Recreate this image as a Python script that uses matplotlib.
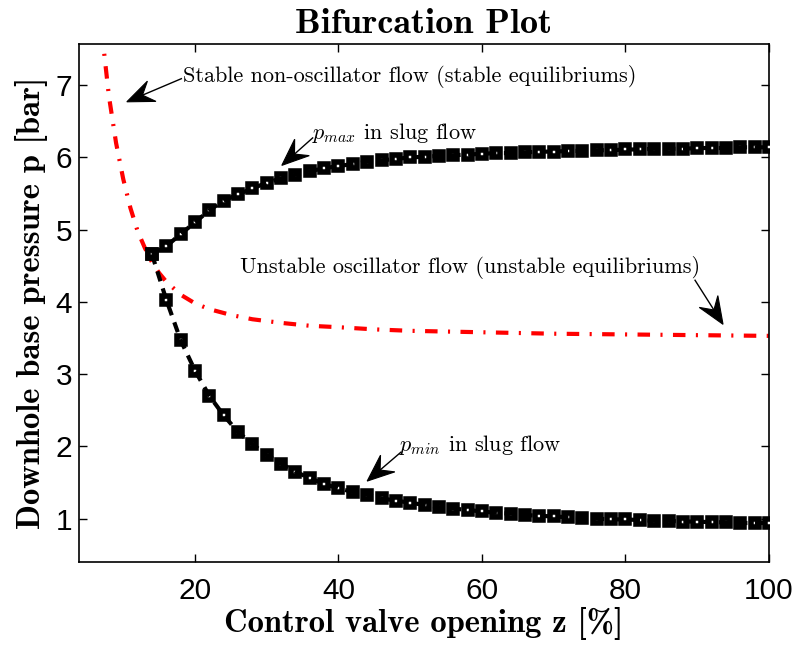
import numpy as np
import matplotlib
matplotlib.use("Agg")
import matplotlib.pyplot as plt
from matplotlib.patches import Polygon
from matplotlib.transforms import IdentityTransform

plt.rcParams['mathtext.fontset'] = 'cm'

# valve opening [%] for the slug-flow branches
z_slug = list(range(14, 101, 2))
p_max = [4.66, 4.77, 4.94, 5.10, 5.27, 5.40, 5.49, 5.57, 5.65, 5.71,
         5.76, 5.81, 5.85, 5.88, 5.91, 5.94, 5.96, 5.98, 6.00, 6.01,
         6.02, 6.03, 6.04, 6.05, 6.06, 6.06, 6.07, 6.08, 6.08, 6.09,
         6.09, 6.10, 6.10, 6.11, 6.11, 6.12, 6.12, 6.12, 6.13, 6.13,
         6.13, 6.14, 6.14, 6.14]
p_min = [4.66, 4.03, 3.47, 3.05, 2.70, 2.43, 2.20, 2.03, 1.88, 1.76,
         1.65, 1.56, 1.48, 1.42, 1.37, 1.33, 1.28, 1.25, 1.22, 1.19,
         1.16, 1.14, 1.12, 1.10, 1.08, 1.07, 1.05, 1.04, 1.03, 1.02,
         1.01, 1.00, 0.99, 0.99, 0.98, 0.97, 0.97, 0.96, 0.96, 0.95,
         0.95, 0.94, 0.94, 0.94]

# equilibrium curve
z_eq = [7, 8, 9, 10, 11, 12, 13, 14, 15, 16, 18, 20, 22, 25, 28, 32,
        36, 40, 45, 50, 60, 70, 80, 90, 100]
p_eq = [7.75, 6.85, 6.2, 5.7, 5.3, 4.98, 4.75, 4.55, 4.4, 4.28, 4.1,
        3.98, 3.9, 3.82, 3.76, 3.71, 3.67, 3.65, 3.62, 3.6, 3.58, 3.56,
        3.55, 3.54, 3.53]

fig = plt.figure(figsize=(7.97, 6.48), dpi=100)
ax = fig.add_axes([0.0991, 0.1327, 0.8657, 0.7994])

ax.plot(z_eq, p_eq, color='red', lw=3, dashes=(3, 2.5, 0.5, 2.5), zorder=2)
for p in (p_max, p_min):
    ax.plot(z_slug, p, ls='none', marker='s', ms=6, mew=4,
            mfc='white', mec='black', zorder=3)
    ax.plot(z_slug, p, color='black', lw=3, dashes=(2.5, 1.8), zorder=4)

ax.set_xlim(3.83, 100)
ax.set_ylim(0.4, 7.57)
ax.set_xticks([20, 40, 60, 80, 100])
ax.set_yticks([1, 2, 3, 4, 5, 6, 7])
ax.tick_params(direction='in', top=True, right=True, length=6, width=1,
               labelsize=21.5)
ax.tick_params(axis='x', pad=11)
ax.tick_params(axis='y', pad=5)
for lab in ax.get_xticklabels() + ax.get_yticklabels():
    lab.set_fontfamily('Liberation Sans')
for s in ax.spines.values():
    s.set_linewidth(1.2)

ax.set_title('Bifurcation Plot', fontfamily='cmb10', fontsize=26, pad=8)
ax.set_xlabel('Control valve opening z [%]', fontfamily='cmb10', fontsize=23.5, labelpad=1)
ax.set_ylabel('Downhole base pressure p [bar]', fontfamily='cmb10', fontsize=23.5, labelpad=5)


def arrow(start, tip, L=27, W=11, notch=17):
    # matlab-like arrow with a notched head, drawn in pixel space
    p0 = ax.transData.transform(start)
    p1 = ax.transData.transform(tip)
    d = (p1 - p0) / np.hypot(*(p1 - p0))
    n = np.array([-d[1], d[0]])
    back = p1 - d * notch
    head = [p1, p1 - d * L + n * W, back, p1 - d * L - n * W]
    ax.add_patch(Polygon(head, closed=True, fc='black', ec='black', lw=0.8,
                         transform=IdentityTransform(), clip_on=False, zorder=6))
    ax.plot([p0[0], back[0]], [p0[1], back[1]], color='black', lw=1,
            transform=IdentityTransform(), clip_on=False, zorder=6)


tk = dict(fontfamily='cmr10', fontsize=16, va='center', ha='left', zorder=6)
ax.text(18.3, 7.12, 'Stable non-oscillator flow (stable equilibriums)', **tk)
arrow((18.1, 7.09), (10.5, 6.77))
ax.text(36.3, 6.34, r'$p_{max}$ in slug flow', **tk)
arrow((36.4, 6.27), (32.1, 5.89))
ax.text(26.3, 4.47, 'Unstable oscillator flow (unstable equilibriums)', **tk)
arrow((89.7, 4.30), (93.6, 3.69))
ax.text(48.4, 2.02, r'$p_{min}$ in slug flow', **tk)
arrow((48.7, 1.92), (44.0, 1.52))

fig.savefig('out.png', dpi=100)
